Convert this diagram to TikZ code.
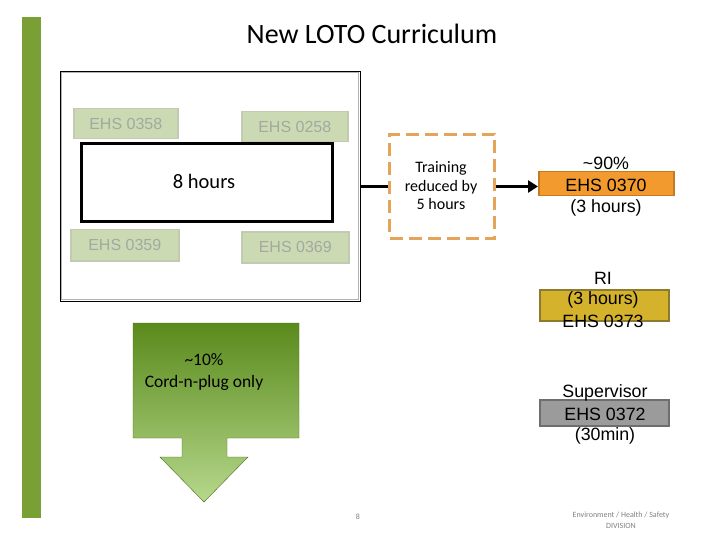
\documentclass[tikz,border=0pt]{standalone}
\usepackage{fontspec}
\setmainfont{Carlito}
\newfontfamily\arialf{Liberation Sans}
\usetikzlibrary{arrows.meta}
\definecolor{barGreen}{HTML}{7AA035}
\definecolor{ehsFill}{HTML}{CCDAB4}
\definecolor{ehsBorder}{HTML}{C2CBB2}
\definecolor{ehsText}{HTML}{A4A8A0}
\definecolor{dashOrange}{HTML}{E4A55A}
\definecolor{boxOrange}{HTML}{F29A2E}
\definecolor{boxOrangeB}{HTML}{C47A22}
\definecolor{boxGold}{HTML}{D4B22C}
\definecolor{boxGoldB}{HTML}{8C7A30}
\definecolor{boxGray}{HTML}{9B9B9B}
\definecolor{boxGrayB}{HTML}{6E6E6E}
\definecolor{arrowTop}{HTML}{5A8A1C}
\definecolor{arrowBot}{HTML}{B6D88C}
\begin{document}
\begin{tikzpicture}[x=1pt,y=-1pt,
  ehsbox/.style={draw=ehsBorder, line width=1.5pt, fill=ehsFill, text=ehsText,
    font=\arialf\fontsize{16}{18}\selectfont, inner sep=0pt, anchor=north west},
  rtext/.style={font=\arialf\fontsize{17.8}{20}\selectfont, inner sep=0pt},
  rbox/.style={line width=1.5pt, inner sep=0pt, anchor=north west}]
\useasboundingbox (0,0) rectangle (720,540);
% side bar
\fill[barGreen] (22,17) rectangle (41,518);
% title
\node[font=\fontsize{28}{32}\selectfont] (title) at (372,34) {New LOTO Curriculum};
% outer box
\node[draw=black, line width=1pt, minimum width=300pt, minimum height=230pt, inner sep=0pt, anchor=north west] (outer) at (60,71) {};
\draw[gray!60, line width=1pt] (61.5,72.5) rectangle (358.5,299.5);
% EHS boxes
\node[ehsbox, minimum width=104pt, minimum height=30pt] (e358) at (73,108) {EHS 0358};
\node[ehsbox, minimum width=106pt, minimum height=30pt] (e258) at (241,111) {EHS 0258};
\node[ehsbox, minimum width=108pt, minimum height=31pt] (e359) at (70,229) {EHS 0359};
\node[ehsbox, minimum width=107pt, minimum height=31pt] (e369) at (241,231) {EHS 0369};
% 8 hours
\node[draw=black, line width=3pt, fill=white, minimum width=251pt, minimum height=78pt, inner sep=0pt, anchor=north west] (hours) at (80,142) {};
\node[font=\fontsize{20.5}{24}\selectfont] (hourstext) at (204,181) {8 hours};
% dashed box
\node[draw=dashOrange, line width=3pt, dash pattern=on 13pt off 6pt, minimum width=105pt, minimum height=104pt,
  inner sep=0pt, anchor=north west] (reduced) at (388,133) {};
\node[font=\fontsize{16}{18.5}\selectfont, align=center] (redtext) at (441,186) {Training\\reduced by\\5 hours};
% orange box
\node[rbox, draw=boxOrangeB, fill=boxOrange, minimum width=135pt, minimum height=24pt] (o370) at (538,171) {};
\node[rtext] (p90) at (606,163) {\textasciitilde90\%};
\node[rtext] (e370) at (606,185) {EHS 0370};
\node[rtext] (h3) at (606,208) {(3 hours)};
% connectors
\draw[line width=3pt] (outer.east) -- (outer.east -| reduced.west);
\draw[line width=3pt, -{Triangle[length=10pt,width=12pt]}] (reduced.east |- outer.east) -- (outer.east -| o370.west);
% RI box
\node[rbox, draw=boxGoldB, fill=boxGold, minimum width=129pt, minimum height=31pt] (ri) at (539,289) {};
\node[rtext] (ritext) at (603,278) {RI};
\node[rtext] (ri3) at (603,300) {(3 hours)};
\node[rtext] (e373) at (603,321) {EHS 0373};
% supervisor box
\node[rbox, draw=boxGrayB, fill=boxGray, minimum width=129pt, minimum height=26pt] (sup) at (539,399) {};
\node[rtext] (suptext) at (605,393) {Supervisor};
\node[rtext] (e372) at (605,414) {EHS 0372};
\node[rtext] (min30) at (605,436) {(30min)};
% green arrow
\shade[top color=arrowTop, bottom color=arrowBot, draw=arrowTop!80!black, line width=0.4pt]
  (133,323) -- (299,323) -- (299,438) -- (227,438) -- (227,457) -- (248,457) -- (204,502)
  -- (160,457) -- (182,457) -- (182,438) -- (133,438) -- cycle;
\node[font=\fontsize{17.5}{22}\selectfont, align=center] (plug) at (204,372) {\textasciitilde10\%\\Cord-n-plug only};
% footer
\node[font=\fontsize{8}{9}\selectfont, text=gray] (page) at (358,517) {8};
\node[font=\fontsize{8}{11}\selectfont, text=gray, align=center] (div) at (621,520) {Environment / Health / Safety\\DIVISION};
\end{tikzpicture}
\end{document}
